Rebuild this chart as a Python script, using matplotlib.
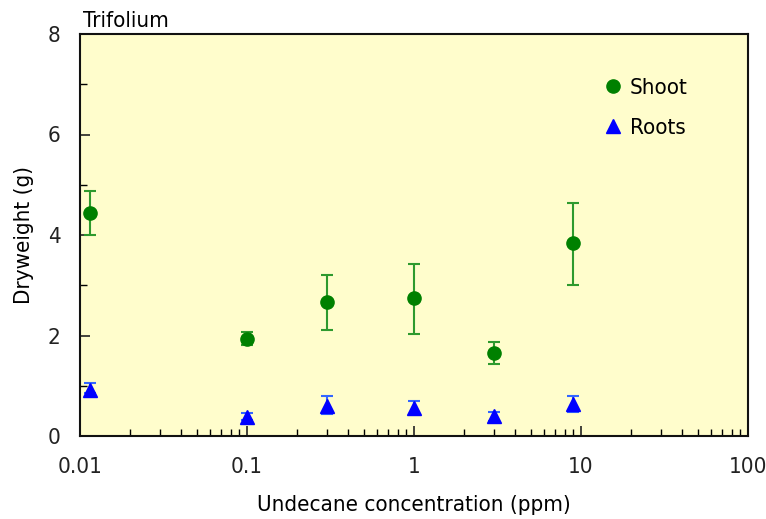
import matplotlib.pyplot as plt
from matplotlib.ticker import FixedLocator, LogLocator, NullFormatter

plt.rcParams['font.family'] = ['DejaVu Sans']
plt.rcParams['font.stretch'] = 'condensed'

# concentrations (ppm)
conc = [0.0115, 0.1, 0.3, 1, 3, 9]

shoot = [4.44, 1.93, 2.67, 2.75, 1.65, 3.84]
shoot_hi = [4.88, 2.07, 3.20, 3.42, 1.87, 4.64]
shoot_lo = [4.00, 1.81, 2.11, 2.03, 1.43, 3.00]

roots = [0.92, 0.38, 0.60, 0.56, 0.40, 0.64]
roots_hi = [1.05, 0.46, 0.80, 0.70, 0.48, 0.80]
roots_lo = [0.85, 0.32, 0.44, 0.44, 0.30, 0.48]

fig = plt.figure(figsize=(7.66, 5.19), dpi=100)
ax = fig.add_axes([80 / 766, 1 - 436 / 519, 668 / 766, 402 / 519])
ax.set_facecolor('#FFFDCC')

s_err = [[m - l for m, l in zip(shoot, shoot_lo)], [h - m for m, h in zip(shoot, shoot_hi)]]
r_err = [[m - l for m, l in zip(roots, roots_lo)], [h - m for m, h in zip(roots, roots_hi)]]

ax.errorbar(conc, shoot, yerr=s_err, fmt='none', ecolor='#2E9A2E', elinewidth=1.5, capsize=4.5, capthick=1.5)
ax.errorbar(conc, roots, yerr=r_err, fmt='none', ecolor='#3366FF', elinewidth=1.5, capsize=4.5, capthick=1.5)
ax.plot(conc, shoot, 'o', color='#008000', markersize=9.5, label='Shoot', linestyle='none')
ax.plot(conc, roots, '^', color='#0000FF', markersize=10, label='Roots', linestyle='none')

ax.set_xscale('log')
ax.set_xlim(0.01, 100)
ax.set_ylim(0, 8)
ax.set_xticks([0.01, 0.1, 1, 10, 100])
ax.set_xticklabels(['0.01', '0.1', '1', '10', '100'])
ax.xaxis.set_minor_locator(LogLocator(base=10, subs=range(2, 10)))
ax.xaxis.set_minor_formatter(NullFormatter())
ax.set_yticks([0, 2, 4, 6, 8])
ax.yaxis.set_minor_locator(FixedLocator([1, 3, 5, 7]))

ax.tick_params(which='major', direction='in', length=7, width=1.2, labelsize=16, colors='#222222')
ax.tick_params(which='minor', direction='in', length=5, width=1.0)
ax.tick_params(axis='x', pad=15)
ax.tick_params(axis='y', pad=14)
for sp in ax.spines.values():
    sp.set_linewidth(1.5)
    sp.set_color('#111111')

ax.set_xlabel('Undecane concentration (ppm)', fontsize=16, labelpad=13)
ax.set_ylabel('Dryweight (g)', fontsize=16, labelpad=10)
ax.text(0.005, 1.008, 'Trifolium', transform=ax.transAxes, fontsize=16, ha='left', va='bottom')

ax.legend(loc='upper right', bbox_to_anchor=(0.94, 0.94), frameon=False, fontsize=16,
          handletextpad=0.0, labelspacing=0.9, handlelength=1.5)

fig.savefig('out.png', dpi=100)
